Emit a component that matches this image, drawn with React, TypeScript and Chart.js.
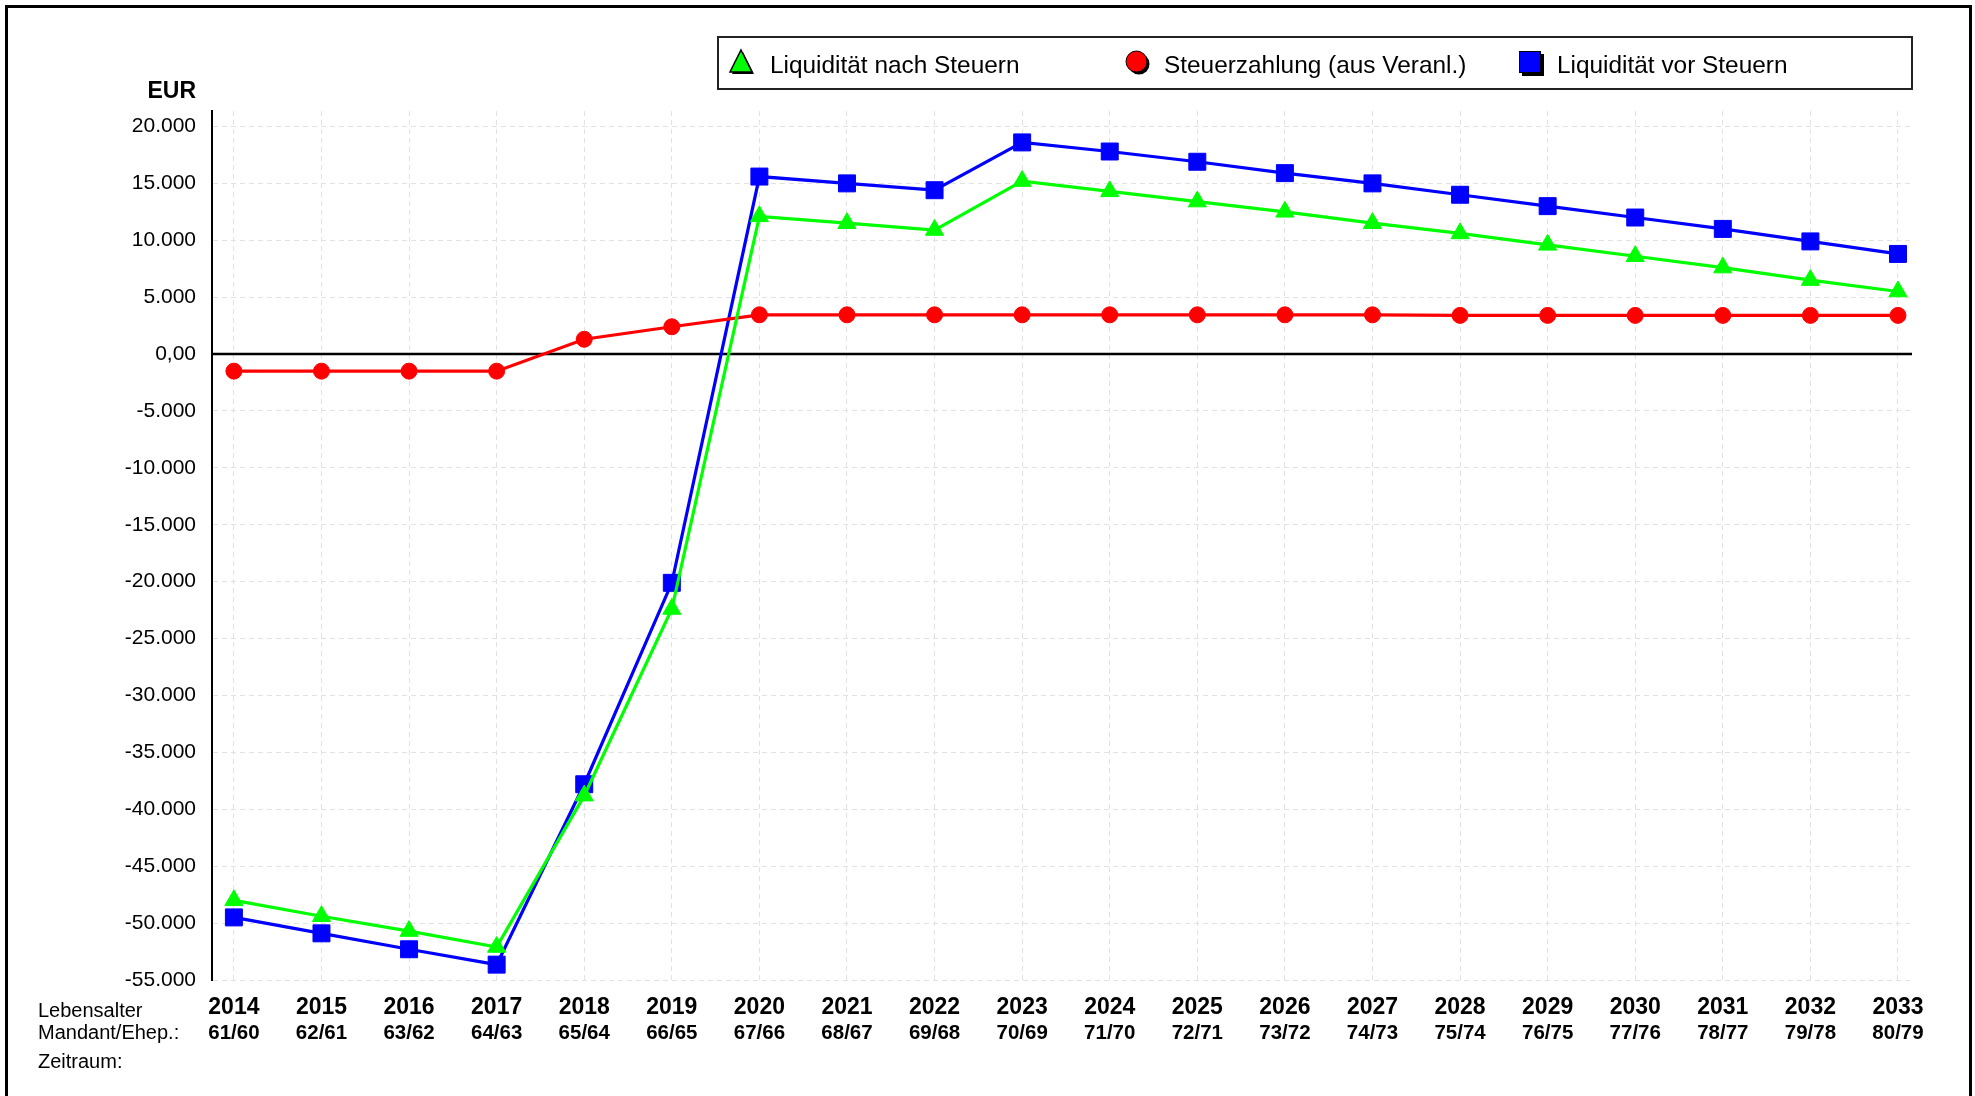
import React, { useEffect, useRef } from 'react';
import { Chart, registerables } from 'chart.js';

Chart.register(...registerables);

const FONT = '"Liberation Sans", Arial, Helvetica, sans-serif';

const years = ['2014', '2015', '2016', '2017', '2018', '2019', '2020', '2021', '2022', '2023', '2024', '2025', '2026', '2027', '2028', '2029', '2030', '2031', '2032', '2033'];
const ages = ['61/60', '62/61', '63/62', '64/63', '65/64', '66/65', '67/66', '68/67', '69/68', '70/69', '71/70', '72/71', '73/72', '74/73', '75/74', '76/75', '77/76', '78/77', '79/78', '80/79'];

const liquiditaetNach = [-48000, -49400, -50700, -52100, -38800, -22400, 12100, 11500, 10900, 15200, 14300, 13400, 12500, 11500, 10600, 9600, 8600, 7600, 6500, 5500];
const steuerzahlung = [-1500, -1500, -1500, -1500, 1300, 2400, 3450, 3450, 3450, 3450, 3450, 3450, 3450, 3450, 3400, 3400, 3400, 3400, 3400, 3400];
const liquiditaetVor = [-49500, -50900, -52300, -53650, -37800, -20100, 15600, 15000, 14400, 18600, 17800, 16900, 15900, 15000, 14000, 13000, 12000, 11000, 9900, 8800];

const yTicks = [20000, 15000, 10000, 5000, 0, -5000, -10000, -15000, -20000, -25000, -30000, -35000, -40000, -45000, -50000, -55000];

const legendLabels = ['Liquidität nach Steuern', 'Steuerzahlung (aus Veranl.)', 'Liquidität vor Steuern'];
const rowLabels = ['Lebensalter', 'Mandant/Ehep.:', 'Zeitraum:'];

const fmt = (v: number): string => {
  if (v === 0) return '0,00';
  const s = Math.abs(v).toString().replace(/\B(?=(\d{3})+(?!\d))/g, '.');
  return (v < 0 ? '-' : '') + s;
};

const extras = {
  id: 'extras',
  beforeDatasetsDraw(chart: any) {
    const { ctx, chartArea, scales } = chart;
    const y0 = scales.y.getPixelForValue(0);
    ctx.save();
    ctx.strokeStyle = '#000';
    ctx.lineWidth = 2.5;
    ctx.beginPath();
    ctx.moveTo(chartArea.left, y0);
    ctx.lineTo(chartArea.right, y0);
    ctx.stroke();
    ctx.restore();
  },
  afterDraw(chart: any) {
    const { ctx, scales } = chart;
    ctx.save();
    // outer frame
    ctx.strokeStyle = '#000';
    ctx.lineWidth = 3;
    ctx.strokeRect(6.5, 6.5, 1964, 1100);

    // EUR label
    ctx.fillStyle = '#000';
    ctx.font = `bold 23px ${FONT}`;
    ctx.textAlign = 'right';
    ctx.textBaseline = 'alphabetic';
    ctx.fillText('EUR', 196, 98);

    // row labels
    ctx.font = `20px ${FONT}`;
    ctx.textAlign = 'left';
    ctx.fillText(rowLabels[0], 38, 1017);
    ctx.fillText(rowLabels[1], 38, 1039);
    ctx.fillText(rowLabels[2], 38, 1068);

    // ages row
    ctx.font = `bold 20.5px ${FONT}`;
    ctx.textAlign = 'center';
    ages.forEach((a, i) => {
      ctx.fillText(a, scales.x.getPixelForValue(i), 1039);
    });

    // legend box
    ctx.lineWidth = 2;
    ctx.strokeStyle = '#222';
    ctx.strokeRect(718, 37, 1194, 52);

    // triangle marker
    const tri = (dx: number, dy: number) => {
      ctx.beginPath();
      ctx.moveTo(741 + dx, 50 + dy);
      ctx.lineTo(752 + dx, 72 + dy);
      ctx.lineTo(730 + dx, 72 + dy);
      ctx.closePath();
    };
    ctx.fillStyle = '#000';
    tri(2, 2);
    ctx.fill();
    tri(0, 0);
    ctx.fillStyle = '#00ff00';
    ctx.fill();
    ctx.lineWidth = 1.5;
    ctx.strokeStyle = '#000';
    ctx.stroke();

    // circle marker
    ctx.fillStyle = '#000';
    ctx.beginPath();
    ctx.arc(1139, 64, 10.5, 0, Math.PI * 2);
    ctx.fill();
    ctx.fillStyle = '#ff0000';
    ctx.beginPath();
    ctx.arc(1136.5, 61.5, 10.5, 0, Math.PI * 2);
    ctx.fill();
    ctx.lineWidth = 1;
    ctx.stroke();

    // square marker
    ctx.fillStyle = '#000';
    ctx.fillRect(1522, 54, 22, 22);
    ctx.fillStyle = '#0000ff';
    ctx.fillRect(1519, 51, 22, 22);
    ctx.lineWidth = 1;
    ctx.strokeRect(1519.5, 51.5, 21, 21);

    // legend texts
    ctx.fillStyle = '#000';
    ctx.font = `24.4px ${FONT}`;
    ctx.textAlign = 'left';
    ctx.fillText(legendLabels[0], 770, 73);
    ctx.fillText(legendLabels[1], 1164, 73);
    ctx.fillText(legendLabels[2], 1557, 73);
    ctx.restore();
  },
};

export default function App() {
  const ref = useRef<HTMLCanvasElement | null>(null);

  useEffect(() => {
    if (!ref.current) return;
    const pts = (arr: number[]) => arr.map((v, i) => ({ x: i, y: v }));
    const chart = new Chart(ref.current, {
      type: 'line',
      data: {
        datasets: [
          {
            label: legendLabels[0],
            data: pts(liquiditaetNach),
            borderColor: '#00ff00',
            backgroundColor: '#00ff00',
            borderWidth: 3.2,
            pointStyle: 'triangle',
            pointRadius: 10.5,
            pointBorderWidth: 1,
            tension: 0,
          },
          {
            label: legendLabels[1],
            data: pts(steuerzahlung),
            borderColor: '#ff0000',
            backgroundColor: '#ff0000',
            borderWidth: 3.2,
            pointStyle: 'circle',
            pointRadius: 8,
            pointBorderWidth: 1,
            tension: 0,
          },
          {
            label: legendLabels[2],
            data: pts(liquiditaetVor),
            borderColor: '#0000ff',
            backgroundColor: '#0000ff',
            borderWidth: 3.2,
            pointStyle: 'rect',
            pointRadius: 12,
            pointBorderWidth: 1,
            tension: 0,
          },
        ],
      },
      options: {
        responsive: false,
        animation: false,
        devicePixelRatio: 1,
        layout: { padding: { left: 0, top: 111, right: 63, bottom: 0 } },
        plugins: { legend: { display: false }, tooltip: { enabled: false }, title: { display: false } },
        scales: {
          x: {
            type: 'linear',
            min: -0.25,
            max: 19.16,
            afterBuildTicks: (s: any) => {
              s.ticks = years.map((_, i) => ({ value: i }));
            },
            afterFit: (s: any) => {
              s.height = 116;
            },
            ticks: {
              autoSkip: false,
              maxRotation: 0,
              minRotation: 0,
              padding: 14,
              color: '#000',
              font: { family: FONT, size: 23, weight: 'bold' },
              callback: (v: any) => years[Math.round(Number(v))] ?? '',
            },
            grid: { color: '#e2e2e2', lineWidth: 1, drawTicks: false },
            border: { display: false, dash: [5, 4] },
          },
          y: {
            type: 'linear',
            min: -55000,
            max: 21360,
            afterBuildTicks: (s: any) => {
              s.ticks = yTicks.map((v) => ({ value: v }));
            },
            afterFit: (s: any) => {
              s.width = 212;
            },
            ticks: {
              padding: 16,
              color: '#000',
              font: { family: FONT, size: 21 },
              callback: (v: any) => fmt(Number(v)),
            },
            grid: { color: '#e2e2e2', lineWidth: 1, drawTicks: false },
            border: { display: true, color: '#000', width: 2, dash: [5, 4] },
          },
        },
      },
      plugins: [extras],
    } as any);
    return () => chart.destroy();
  }, []);

  return (
    <canvas
      ref={ref}
      width={1975}
      height={1096}
      style={{ position: 'absolute', left: 0, top: 0, display: 'block', width: 1975, height: 1096 }}
    />
  );
}
